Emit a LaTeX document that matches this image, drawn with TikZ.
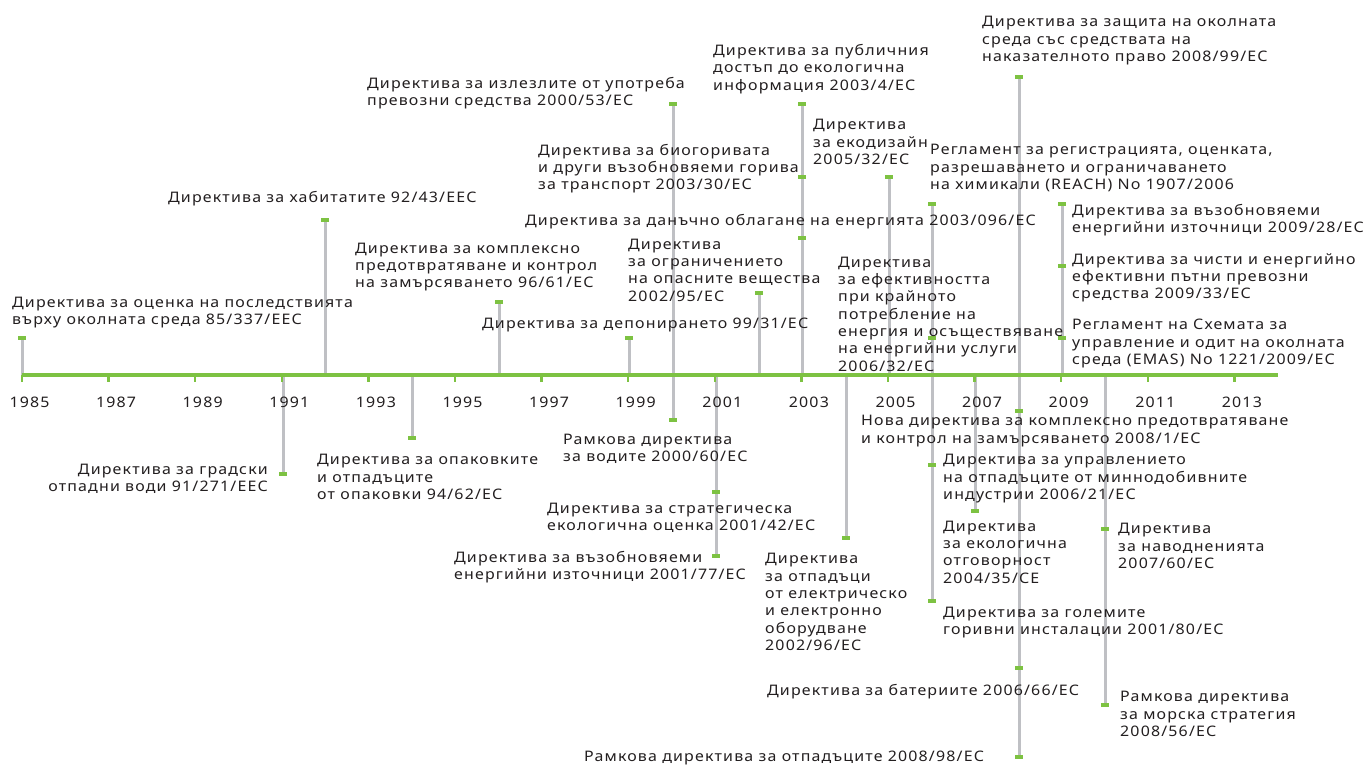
\documentclass[tikz,border=0pt]{standalone}
\usepackage{fontspec}
\setmainfont[FakeStretch=1.1,LetterSpace=8]{Noto Sans}
\definecolor{axisgreen}{HTML}{7DC242}
\definecolor{stemgray}{HTML}{BFC0C4}
\definecolor{txt}{HTML}{231F20}
\newcommand{\lblfont}{\fontsize{14.5}{17.3}\selectfont}
\tikzset{
  lbl/.style={anchor=west, align=left, inner sep=0pt, font=\lblfont, text=txt, yshift=-2pt},
  lblr/.style={anchor=east, align=right, inner sep=0pt, font=\lblfont, text=txt, yshift=-2pt},
  yrlbl/.style={inner sep=0pt, font=\lblfont, text=txt},
  stemline/.style={draw=stemgray, line width=3pt},
  capmark/.style={rectangle, fill=axisgreen, draw=none, minimum width=8pt, minimum height=4pt, inner sep=0pt},
  axisline/.style={draw=axisgreen, line width=3.5pt},
  tickline/.style={draw=axisgreen, line width=2.5pt}
}
\begin{document}
\begin{tikzpicture}[x=1pt,y=-1pt]
\useasboundingbox[fill=white] (0,0) rectangle (1366,767);

% axis points for stems
\coordinate (a85) at (22,375);
\coordinate (a91) at (283,375);
\coordinate (a92) at (325,375);
\coordinate (a94) at (412,375);
\coordinate (a96) at (499,375);
\coordinate (a99) at (629,375);
\coordinate (a00) at (673,375);
\coordinate (a01) at (716,375);
\coordinate (a02) at (759,375);
\coordinate (a03) at (802,375);
\coordinate (a04) at (846,375);
\coordinate (a05) at (889,375);
\coordinate (a06) at (932,375);
\coordinate (a07) at (975,375);
\coordinate (a08) at (1019,375);
\coordinate (a09) at (1062,375);
\coordinate (a10) at (1105,375);

% marks (positions)
\coordinate (m85) at (22,338);
\coordinate (m91) at (283,474);
\coordinate (m92) at (325,220);
\coordinate (m94) at (412,438);
\coordinate (m96) at (499,302);
\coordinate (m99) at (629,338);
\coordinate (m00a) at (673,104);
\coordinate (m00b) at (673,420);
\coordinate (m01a) at (716,492);
\coordinate (m01b) at (716,556);
\coordinate (m02) at (759,293);
\coordinate (m03a) at (802,104);
\coordinate (m03b) at (802,177);
\coordinate (m03c) at (802,238);
\coordinate (m04) at (846,538);
\coordinate (m05) at (889,177);
\coordinate (m06r) at (932,204);
\coordinate (m06e) at (932,338);
\coordinate (m06m) at (932,465);
\coordinate (m06g) at (932,601);
\coordinate (m07) at (975,511);
\coordinate (m08t) at (1019,77);
\coordinate (m08n) at (1019,411);
\coordinate (m08b) at (1019,668);
\coordinate (m08w) at (1019,757);
\coordinate (m09a) at (1062,204);
\coordinate (m09b) at (1062,266);
\coordinate (m09c) at (1062,338);
\coordinate (m10a) at (1105,529);
\coordinate (m10b) at (1105,705);

% stems
\draw[stemline] (a85) -- (m85);
\draw[stemline] (a91) -- (m91);
\draw[stemline] (a92) -- (m92);
\draw[stemline] (a94) -- (m94);
\draw[stemline] (a96) -- (m96);
\draw[stemline] (a99) -- (m99);
\draw[stemline] (m00a) -- (m00b);
\draw[stemline] (a01) -- (m01b);
\draw[stemline] (a02) -- (m02);
\draw[stemline] (a03) -- (m03a);
\draw[stemline] (a04) -- (m04);
\draw[stemline] (a05) -- (m05);
\draw[stemline] (m06r) -- (m06g);
\draw[stemline] (a07) -- (m07);
\draw[stemline] (m08t) -- (m08w);
\draw[stemline] (a09) -- (m09a);
\draw[stemline] (a10) -- (m10b);

% green marks on top of stems
\foreach \m in {m85,m91,m92,m94,m96,m99,m00a,m00b,m01a,m01b,m02,m03a,m03b,m03c,m04,m05,m06r,m06e,m06m,m06g,m07,m08t,m08n,m08b,m08w,m09a,m09b,m09c,m10a,m10b}
  \node[capmark] (c\m) at (\m) {};

% axis
\coordinate (axstart) at (22,375);
\coordinate (axend) at (1278,375);
\draw[axisline] (axstart) -- (axend);
\foreach \yr in {1985,1987,...,2013} {
  \pgfmathsetmacro{\xx}{22+(\yr-1985)*43.3}
  \coordinate (t\yr) at (\xx,375);
  \draw[tickline] (t\yr) -- ++(0,7);
  \node[yrlbl] (y\yr) at (\xx+7.5,402) {\yr};
}

% labels above
\node[lbl] (L85) at (12,310.5) {Директива за оценка на последствията\\върху околната среда 85/337/ЕЕС};
\node[lbl] (L92) at (168,197) {Директива за хабитатите 92/43/ЕЕС};
\node[lbl] (L96) at (355,265) {Директива за комплексно\\предотвратяване и контрол\\на замърсяването 96/61/ЕС};
\node[lbl] (L99) at (482,323) {Директива за депонирането 99/31/ЕС};
\node[lbl] (L00a) at (367,91.5) {Директива за излезлите от употреба\\превозни средства 2000/53/ЕС};
\node[lbl] (L02) at (628,268) {Директива\\за ограничението\\на опасните вещества\\2002/95/ЕС};
\node[lbl] (L03a) at (713,67) {Директива за публичния\\достъп до екологична\\информация 2003/4/ЕС};
\node[lbl] (L03b) at (538,166.7) {Директива за биогоривата\\и други възобновяеми горива\\за транспорт 2003/30/ЕС};
\node[lbl] (L03c) at (525,220) {Директива за данъчно облагане на енергията 2003/096/ЕС};
\node[lbl] (L05) at (813,140) {Директива\\за екодизайн\\2005/32/ЕС};
\node[lbl] (L06r) at (930,166) {Регламент за регистрацията, оценката,\\разрешаването и ограничаването\\на химикали (REACH) No 1907/2006};
\node[lbl] (L06e) at (838,312) {Директива\\за ефективността\\при крайното\\потребление на\\енергия и осъществяване\\на енергийни услуги\\2006/32/ЕС};
\node[lbl] (L08t) at (982,38.7) {Директива за защита на околната\\среда със средствата на\\наказателното право 2008/99/ЕС};
\node[lbl] (L09a) at (1072,218) {Директива за възобновяеми\\енергийни източници 2009/28/ЕС};
\node[lbl] (L09b) at (1072,275.7) {Директива за чисти и енергийно\\ефективни пътни превозни\\средства 2009/33/ЕС};
\node[lbl] (L09c) at (1072,341.7) {Регламент на Схемата за\\управление и одит на околната\\среда (EMAS) No 1221/2009/ЕС};

% labels below
\node[lblr] (L91) at (268,476.5) {Директива за градски\\отпадни води 91/271/ЕЕС};
\node[lbl] (L94) at (317,475) {Директива за опаковките\\и отпадъците\\от опаковки 94/62/ЕС};
\node[lbl] (L00b) at (563,446.5) {Рамкова директива\\за водите 2000/60/ЕС};
\node[lbl] (L01a) at (547,515.5) {Директива за стратегическа\\екологична оценка 2001/42/ЕС};
\node[lbl] (L01b) at (454,565) {Директива за възобновяеми\\енергийни източници 2001/77/ЕС};
\node[lbl] (L04) at (765,600) {Директива\\за отпадъци\\от електрическо\\и електронно\\оборудване\\2002/96/ЕС};
\node[lbl] (L08n) at (861,429) {Нова директива за комплексно предотвратяване\\и контрол на замърсяването 2008/1/ЕС};
\node[lbl] (L06m) at (943,476.7) {Директива за управлението\\на отпадъците от миннодобивните\\индустрии 2006/21/ЕС};
\node[lbl] (L07) at (943,550) {Директива\\за екологична\\отговорност\\2004/35/СЕ};
\node[lbl] (L10a) at (1118,544) {Директива\\за наводненията\\2007/60/ЕС};
\node[lbl] (L06g) at (943,620.5) {Директива за големите\\горивни инсталации 2001/80/ЕС};
\node[lbl] (L08b) at (767,690) {Директива за батериите 2006/66/ЕС};
\node[lbl] (L10b) at (1120,712) {Рамкова директива\\за морска стратегия\\2008/56/ЕС};
\node[lbl] (L08w) at (584,756) {Рамкова директива за отпадъците 2008/98/ЕС};
\end{tikzpicture}
\end{document}
